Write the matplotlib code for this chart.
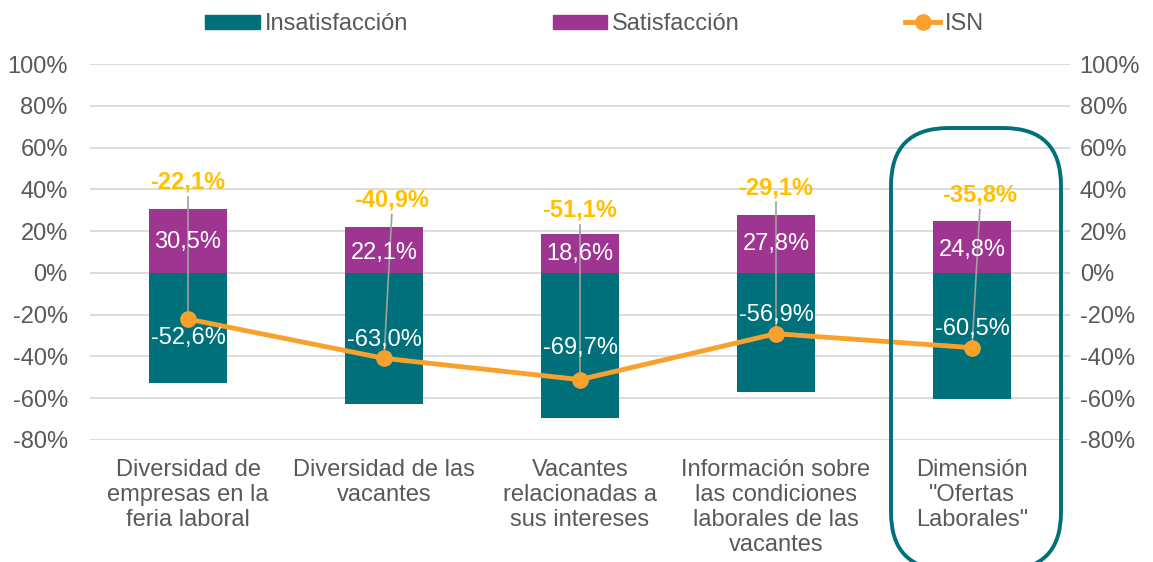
import matplotlib
matplotlib.use("Agg")
import matplotlib.pyplot as plt
from matplotlib.lines import Line2D
from matplotlib.patches import FancyBboxPatch, Patch
from matplotlib.ticker import FuncFormatter

plt.rcParams["font.family"] = ["Liberation Sans", "DejaVu Sans"]

categories = [
    "Diversidad de\nempresas en la\nferia laboral",
    "Diversidad de las\nvacantes",
    "Vacantes\nrelacionadas a\nsus intereses",
    "Información sobre\nlas condiciones\nlaborales de las\nvacantes",
    "Dimensión\n\"Ofertas\nLaborales\"",
]
insatisfaccion = [-52.6, -63.0, -69.7, -56.9, -60.5]
satisfaccion = [30.5, 22.1, 18.6, 27.8, 24.8]
isn = [-22.1, -40.9, -51.1, -29.1, -35.8]

TEAL = "#00707A"
PURPLE = "#9E3591"
ORANGE = "#F9A12D"
GOLD = "#FFC000"
GRAY = "#595959"
FS = 17


def pct(v):
    return f"{v:.1f}%".replace(".", ",")


fig = plt.figure(figsize=(11.53, 5.62), dpi=100)
ax = fig.add_axes([90 / 1153, 1 - 440 / 562, 980 / 1153, 376 / 562])

x = list(range(len(categories)))
ax.bar(x, insatisfaccion, width=0.4, color=TEAL, zorder=2)
ax.bar(x, satisfaccion, width=0.4, color=PURPLE, zorder=2)
ax.plot(x, isn, color=ORANGE, lw=3.5, marker="o", ms=11, zorder=4)

# label placement (data units), as in the original layout
sat_label_y = [15.0, 9.5, 9.0, 14.0, 11.0]
ins_label_y = [-31.0, -32.0, -36.0, -20.0, -27.0]
for i in x:
    ax.text(i, sat_label_y[i], pct(satisfaccion[i]), color="white",
            ha="center", va="center", fontsize=FS, zorder=5)
    ax.text(i, ins_label_y[i], pct(insatisfaccion[i]), color="white",
            ha="center", va="center", fontsize=FS, zorder=5)

# ISN labels placed above the bars with leader lines
label_y = [43.5, 35.0, 30.0, 40.7, 37.3]
label_dx = [0.0, 0.04, 0.0, 0.0, 0.04]
for i in x:
    lx = i + label_dx[i]
    ax.text(lx, label_y[i], pct(isn[i]), color=GOLD, fontweight="bold",
            ha="center", va="center", fontsize=FS, zorder=5)
    ax.plot([lx, i], [label_y[i] - 7, isn[i]], color="#A0A0A0", lw=1.2, zorder=3)

ax.set_xlim(-0.5, len(categories) - 0.5)
ax.set_ylim(-80, 100)
ax.set_yticks(range(-80, 101, 20))
ax.yaxis.set_major_formatter(FuncFormatter(lambda v, _: f"{v:.0f}%"))
ax.grid(axis="y", color="#D9D9D9", lw=1.3, zorder=0)
ax.set_axisbelow(True)
for s in ax.spines.values():
    s.set_visible(False)
ax.tick_params(axis="y", length=0, labelsize=FS, labelcolor=GRAY, pad=16)
ax.set_xticks(x)
ax.set_xticklabels(categories, fontsize=FS, color=GRAY, va="top", linespacing=1.17)
ax.tick_params(axis="x", length=0, pad=14)

ax2 = ax.twinx()
ax2.set_ylim(-80, 100)
ax2.set_yticks(range(-80, 101, 20))
ax2.yaxis.set_major_formatter(FuncFormatter(lambda v, _: f"{v:.0f}%"))
ax2.tick_params(axis="y", length=0, labelsize=FS, labelcolor=GRAY, pad=7)
for s in ax2.spines.values():
    s.set_visible(False)

box = FancyBboxPatch((891 / 1153, 1 - 570 / 562), 170 / 1153, 442 / 562,
                     boxstyle="round,pad=0,rounding_size=0.05",
                     transform=fig.transFigure, fill=False, ec=TEAL, lw=2.8,
                     mutation_aspect=1153 / 562)
fig.patches.append(box)

legend_items = [
    (Patch(color=TEAL, label="Insatisfacción"), 205, 2.35),
    (Patch(color=PURPLE, label="Satisfacción"), 553, 2.3),
    (Line2D([0], [0], color=ORANGE, lw=3.5, marker="o", ms=11, label="ISN"), 905, 1.5),
]
for handle, left_px, hl in legend_items:
    fig.legend(handles=[handle], loc="upper left",
               bbox_to_anchor=(left_px / 1153, 1 - 13 / 562),
               frameon=False, fontsize=FS, labelcolor=GRAY,
               borderpad=0, borderaxespad=0, handlelength=hl,
               handletextpad=0.2, handleheight=0.55)

fig.savefig("out.png", dpi=100)
